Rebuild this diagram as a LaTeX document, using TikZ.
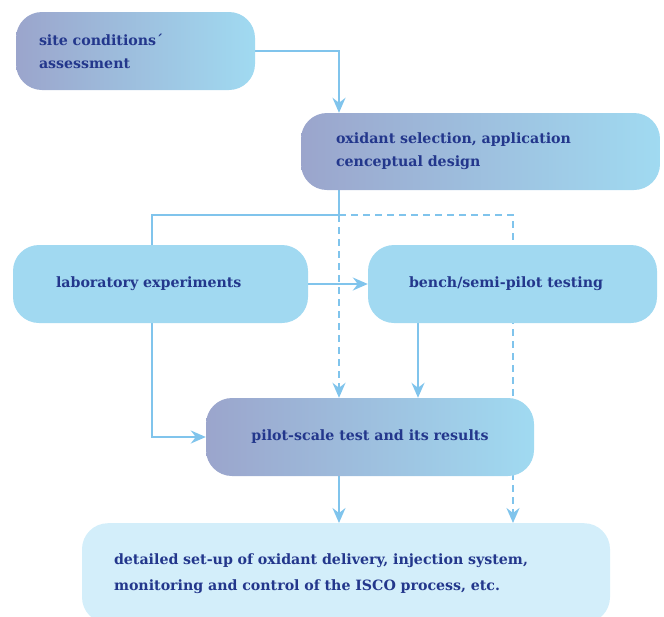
\documentclass[tikz,border=0pt]{standalone}
\usepackage{fontspec}
\setmainfont{DejaVu Serif}
\usetikzlibrary{arrows.meta,backgrounds}
\definecolor{navy}{RGB}{35,55,140}
\definecolor{wire}{RGB}{128,196,236}
\definecolor{boxlight}{RGB}{161,217,241}
\definecolor{boxpale}{RGB}{211,238,250}
\definecolor{grleft}{RGB}{155,165,204}
\definecolor{grmid}{RGB}{146,180,216}
\definecolor{grright}{RGB}{160,218,241}
\tikzset{
  box/.style={rounded corners=26pt, inner ysep=0pt, text=navy,
    font=\fontsize{14.2}{23}\selectfont\bfseries},
  gradbox/.style={box, left color=grleft, middle color=grmid, right color=grright, shading angle=90},
  flatbox/.style={box, fill=boxlight},
  wireline/.style={wire, line width=2.2pt},
  link/.style={wireline, -{Stealth[length=15pt, width=13pt, inset=5pt]}},
  dline/.style={wireline, dash pattern=on 7pt off 5pt},
  dlink/.style={link, dash pattern=on 7pt off 5pt}
}
\begin{document}
\begin{tikzpicture}[x=1pt,y=-1pt]
        \useasboundingbox (0,0) rectangle (664,616);
        \clip (0,0) rectangle (664,616);
        \node[gradbox, minimum width=239pt, minimum height=78pt, text width=193pt, inner xsep=23pt, align=left]
            (site) at (135.5,51) {site conditions´\\assessment};
        \node[gradbox, minimum width=359pt, minimum height=77pt, text width=289pt, inner xsep=35pt, align=left]
            (oxid) at (480.5,151.5) {oxidant selection, application\\cenceptual design};
        \node[flatbox, minimum width=295pt, minimum height=78pt, text width=209pt, inner xsep=43pt, align=left]
            (lab) at (160.5,284) {laboratory experiments};
        \node[flatbox, minimum width=289pt, minimum height=78pt, text width=207pt, inner xsep=41pt, align=left]
            (bench) at (512.5,284) {bench/semi-pilot testing};
        \node[gradbox, minimum width=328pt, minimum height=78pt, align=center]
            (pilot) at (370,437) {pilot-scale test and its results};
        \node[box, fill=boxpale, anchor=north, minimum width=528pt, minimum height=100pt, text width=464pt, inner xsep=32pt, align=left,
            font=\fontsize{14.2}{26}\selectfont\bfseries]
            (detail) at (346,523) {detailed set-up of oxidant delivery, injection system,\\monitoring and control of the ISCO process, etc.};
        \coordinate (split) at (339,215);
        \coordinate (lableft) at (152,215);
        \coordinate (dashcorner) at (513,215);
        \coordinate (bx) at (418,0);
        \begin{scope}[on background layer]
            \draw[link] (site.east) -| (oxid.north -| split);
            \draw[wireline] (oxid.south -| split) -- (split) -- (lableft) -- (lab.north -| lableft);
            \draw[link] (lab.east) -- (bench.west);
            \draw[link] (lab.south -| lableft) |- (pilot.west);
            \draw[link] (bench.south -| bx) -- (pilot.north -| bx);
            \draw[link] (pilot.south -| split) -- (detail.north -| split);
            \draw[dlink] (split) -- (pilot.north -| split);
            \draw[dlink] (split) -- (dashcorner) -- (detail.north -| dashcorner);
        \end{scope}
    \end{tikzpicture}
\end{document}
